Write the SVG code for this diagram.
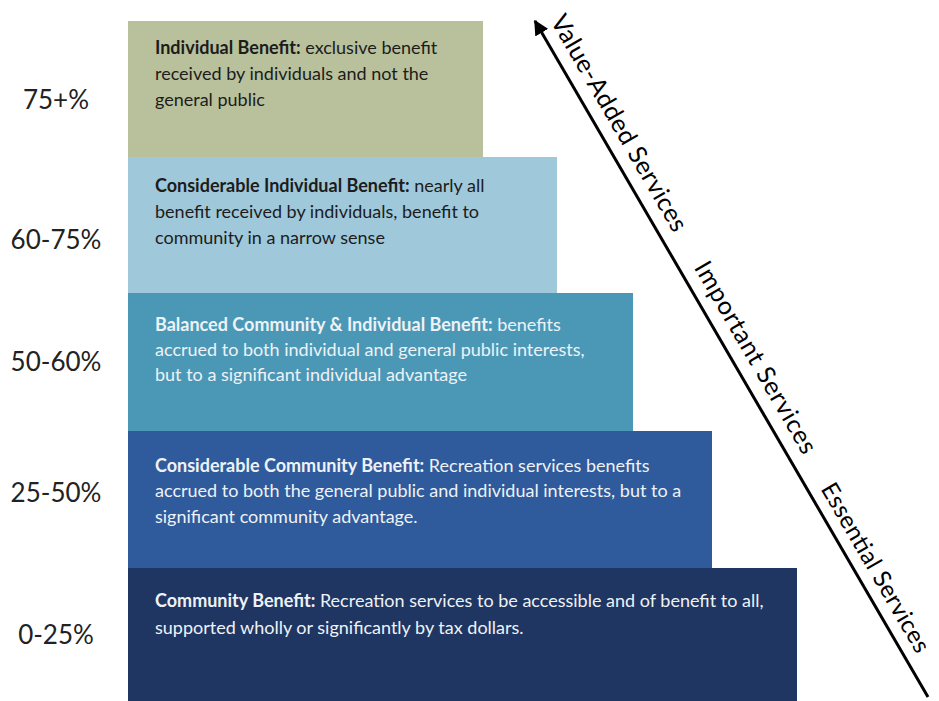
<svg xmlns="http://www.w3.org/2000/svg" width="939" height="701" viewBox="0 0 939 701">
<defs>
<style>
.pct{font-family:Lato,"Open Sans","Liberation Sans",sans-serif;font-size:26px;fill:#222;text-anchor:middle}
.bt{font-family:Lato,"Open Sans","Liberation Sans",sans-serif;font-size:18px}
.dark{fill:#1c1c1c}
.light{fill:#eef2f6}
.b{font-weight:bold}
.ax{font-family:Lato,"Open Sans","Liberation Sans",sans-serif;font-size:25px;fill:#000}
</style>
<marker id="ah" viewBox="0 0 10 10" refX="9" refY="5" markerWidth="5" markerHeight="5" orient="auto" markerUnits="strokeWidth">
<path d="M0,0 L10,5 L0,10 Z" fill="#000"/>
</marker>
</defs>
<rect width="939" height="701" fill="#fff"/>
<g id="tier1">
<rect x="128" y="21" width="355" height="136" fill="#b8c19b"/>
<text class="bt dark" x="155" y="54"><tspan class="b">Individual Benefit:</tspan> exclusive benefit</text>
<text class="bt dark" x="155" y="80">received by individuals and not the</text>
<text class="bt dark" x="155" y="106">general public</text>
</g>
<g id="tier2">
<rect x="128" y="157" width="429" height="136" fill="#9fc8da"/>
<text class="bt dark" x="155" y="192"><tspan class="b">Considerable Individual Benefit:</tspan> nearly all</text>
<text class="bt dark" x="155" y="218">benefit received by individuals, benefit to</text>
<text class="bt dark" x="155" y="244">community in a narrow sense</text>
</g>
<g id="tier3">
<rect x="128" y="293" width="505" height="138" fill="#4a98b6"/>
<text class="bt light" x="155" y="331"><tspan class="b">Balanced Community &amp; Individual Benefit:</tspan> benefits</text>
<text class="bt light" x="155" y="356">accrued to both individual and general public interests,</text>
<text class="bt light" x="155" y="381">but to a significant individual advantage</text>
</g>
<g id="tier4">
<rect x="128" y="431" width="584" height="137" fill="#2f5a9b"/>
<text class="bt light" x="155" y="472"><tspan class="b">Considerable Community Benefit:</tspan> Recreation services benefits</text>
<text class="bt light" x="155" y="497">accrued to both the general public and individual interests, but to a</text>
<text class="bt light" x="155" y="523">significant community advantage.</text>
</g>
<g id="tier5">
<rect x="128" y="568" width="669" height="133" fill="#1f3562"/>
<text class="bt light" x="155" y="607"><tspan class="b">Community Benefit:</tspan> Recreation services to be accessible and of benefit to all,</text>
<text class="bt light" x="155" y="634">supported wholly or significantly by tax dollars.</text>
</g>
<g id="percentages">
<text class="pct" x="56" y="109">75+%</text>
<text class="pct" x="56" y="249">60-75%</text>
<text class="pct" x="56" y="371">50-60%</text>
<text class="pct" x="56" y="502">25-50%</text>
<text class="pct" x="56" y="644">0-25%</text>
</g>
<g id="connectors">
<line x1="928" y1="697" x2="535" y2="21" stroke="#000" stroke-width="3" marker-end="url(#ah)"/>
</g>
<g id="axis-labels">
<text class="ax" transform="translate(550,21) rotate(59.8)" textLength="246" lengthAdjust="spacing">Value-Added Services</text>
<text class="ax" transform="translate(693.6,267.4) rotate(59.8)" textLength="218" lengthAdjust="spacing">Important Services</text>
<text class="ax" style="font-size:24px" transform="translate(820.2,488.7) rotate(59.8)" textLength="192" lengthAdjust="spacing">Essential Services</text>
</g>
</svg>
